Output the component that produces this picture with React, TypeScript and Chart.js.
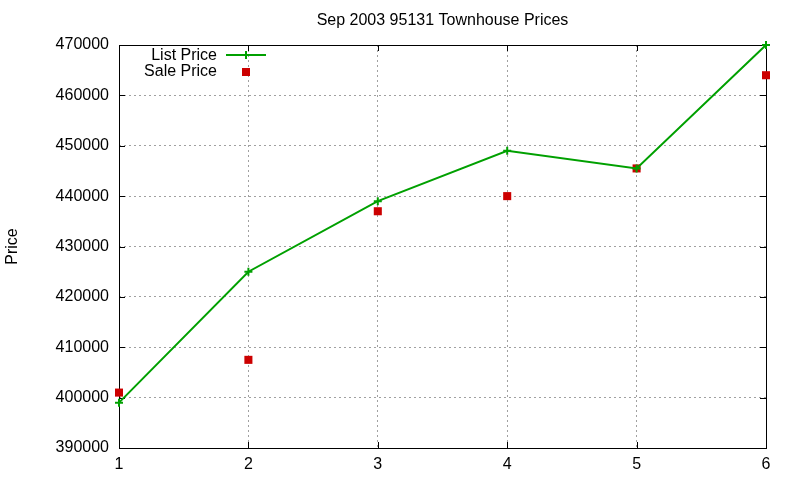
import { useEffect, useRef } from 'react'
import { Chart, registerables } from 'chart.js'

Chart.register(...registerables)

// Data
const months = [1, 2, 3, 4, 5, 6]
const listPrice = [399000, 425000, 439000, 449000, 445500, 470000]
const salePrice = [401000, 407500, 437000, 440000, 445500, 464000]
const yTicks = [390000, 400000, 410000, 420000, 430000, 440000, 450000, 460000, 470000]
const chartTitle = 'Sep 2003 95131 Townhouse Prices'

const FONT = "'Liberation Sans', Arial, sans-serif"
const GREEN = '#00a000'
const RED = '#cc0000'

// gnuplot-like frame with inward ticks on all four sides
function drawFrame(chart: Chart) {
  const { ctx, chartArea: a } = chart
  const xs = chart.scales.x
  const ys = chart.scales.y
  const tick = 6
  const l = Math.round(a.left)
  const r = Math.round(a.right)
  const t = Math.round(a.top)
  const b = Math.round(a.bottom)
  ctx.save()
  ctx.fillStyle = '#000000'
  ctx.fillRect(l, t, r - l + 1, 1)
  ctx.fillRect(l, b, r - l + 1, 1)
  ctx.fillRect(l, t, 1, b - t + 1)
  ctx.fillRect(r, t, 1, b - t + 1)
  for (const v of months) {
    const px = Math.round(xs.getPixelForValue(v))
    ctx.fillRect(px, b - tick, 1, tick)
    ctx.fillRect(px, t, 1, tick)
  }
  for (const v of yTicks) {
    const py = Math.round(ys.getPixelForValue(v))
    ctx.fillRect(l, py, tick, 1)
    ctx.fillRect(r - tick, py, tick, 1)
  }
  ctx.restore()
}

const gnuplotFrame = {
  id: 'gnuplotFrame',
  beforeDatasetsDraw(chart: Chart) {
    drawFrame(chart)
  },
  afterDraw(chart: Chart) {
    const { ctx, chartArea: a } = chart
    const ds = chart.data.datasets
    ctx.save()
    ctx.font = `16px ${FONT}`
    ctx.fillStyle = '#000'
    ctx.textBaseline = 'middle'
    ctx.textAlign = 'center'
    ctx.fillText(chartTitle, (a.left + a.right) / 2, 21)

    const textRight = 217
    const sampleL = 226
    const sampleR = 266
    const sampleX = 246
    const rows = [56, 72]
    ctx.textAlign = 'right'
    ctx.fillText(String(ds[0].label), textRight, rows[0])
    ctx.fillText(String(ds[1].label), textRight, rows[1])
    // List Price sample
    ctx.strokeStyle = GREEN
    ctx.lineWidth = 2
    ctx.beginPath()
    ctx.moveTo(sampleL, rows[0] - 1)
    ctx.lineTo(sampleR, rows[0] - 1)
    ctx.moveTo(sampleX, rows[0] - 5)
    ctx.lineTo(sampleX, rows[0] + 3)
    ctx.stroke()
    // Sale Price sample
    ctx.fillStyle = RED
    ctx.fillRect(sampleX - 4, rows[1] - 4, 8, 8)
    ctx.restore()
  },
}

export default function App() {
  const canvasRef = useRef<HTMLCanvasElement>(null)
  const chartRef = useRef<Chart | null>(null)

  useEffect(() => {
    document.body.style.margin = '0'
    if (!canvasRef.current) return
    if (chartRef.current) chartRef.current.destroy()

    chartRef.current = new Chart(canvasRef.current, {
      type: 'line',
      data: {
        datasets: [
          {
            label: 'List Price',
            data: months.map((m, i) => ({ x: m, y: listPrice[i] })),
            borderColor: GREEN,
            backgroundColor: GREEN,
            borderWidth: 2,
            tension: 0,
            pointStyle: 'cross',
            pointRadius: 4,
            pointBorderWidth: 2,
            pointBorderColor: GREEN,
            clip: false,
          },
          {
            label: 'Sale Price',
            data: months.map((m, i) => ({ x: m, y: salePrice[i] })),
            showLine: false,
            borderColor: RED,
            backgroundColor: RED,
            pointStyle: 'rect',
            pointRadius: 5.7,
            pointBorderWidth: 0,
            clip: false,
          },
        ],
      },
      options: {
        responsive: false,
        animation: false,
        layout: { padding: { left: 0, right: 34, top: 45, bottom: 0 } },
        plugins: {
          legend: { display: false },
          tooltip: { enabled: false },
          title: { display: false },
        },
        scales: {
          x: {
            type: 'linear',
            min: 1,
            max: 6,
            afterFit: (s: any) => { s.height = 32 },
            grid: { color: '#a0a0a0', lineWidth: 1, drawTicks: false },
            border: { display: false, dash: [2, 3] },
            ticks: {
              stepSize: 1,
              color: '#000',
              padding: 7,
              font: { family: FONT, size: 16 },
              maxRotation: 0,
            },
          },
          y: {
            min: 390000,
            max: 470000,
            afterFit: (s: any) => { s.width = 119 },
            grid: { color: '#a0a0a0', lineWidth: 1, drawTicks: false },
            border: { display: false, dash: [2, 3] },
            title: {
              display: true,
              text: 'Price',
              color: '#000',
              font: { family: FONT, size: 16, lineHeight: 1.2 },
              padding: { top: 3, bottom: 0 },
            },
            afterBuildTicks: (s: any) => {
              s.ticks = yTicks.map((v) => ({ value: v }))
            },
            ticks: {
              color: '#000',
              padding: 10,
              font: { family: FONT, size: 16 },
              callback: (v: any) => String(v),
            },
          },
        },
      },
      plugins: [gnuplotFrame],
    })

    return () => {
      if (chartRef.current) {
        chartRef.current.destroy()
        chartRef.current = null
      }
    }
  }, [])

  return (
    <div style={{ width: 800, height: 480, background: '#fff' }}>
      <canvas ref={canvasRef} width={800} height={480}></canvas>
    </div>
  )
}
